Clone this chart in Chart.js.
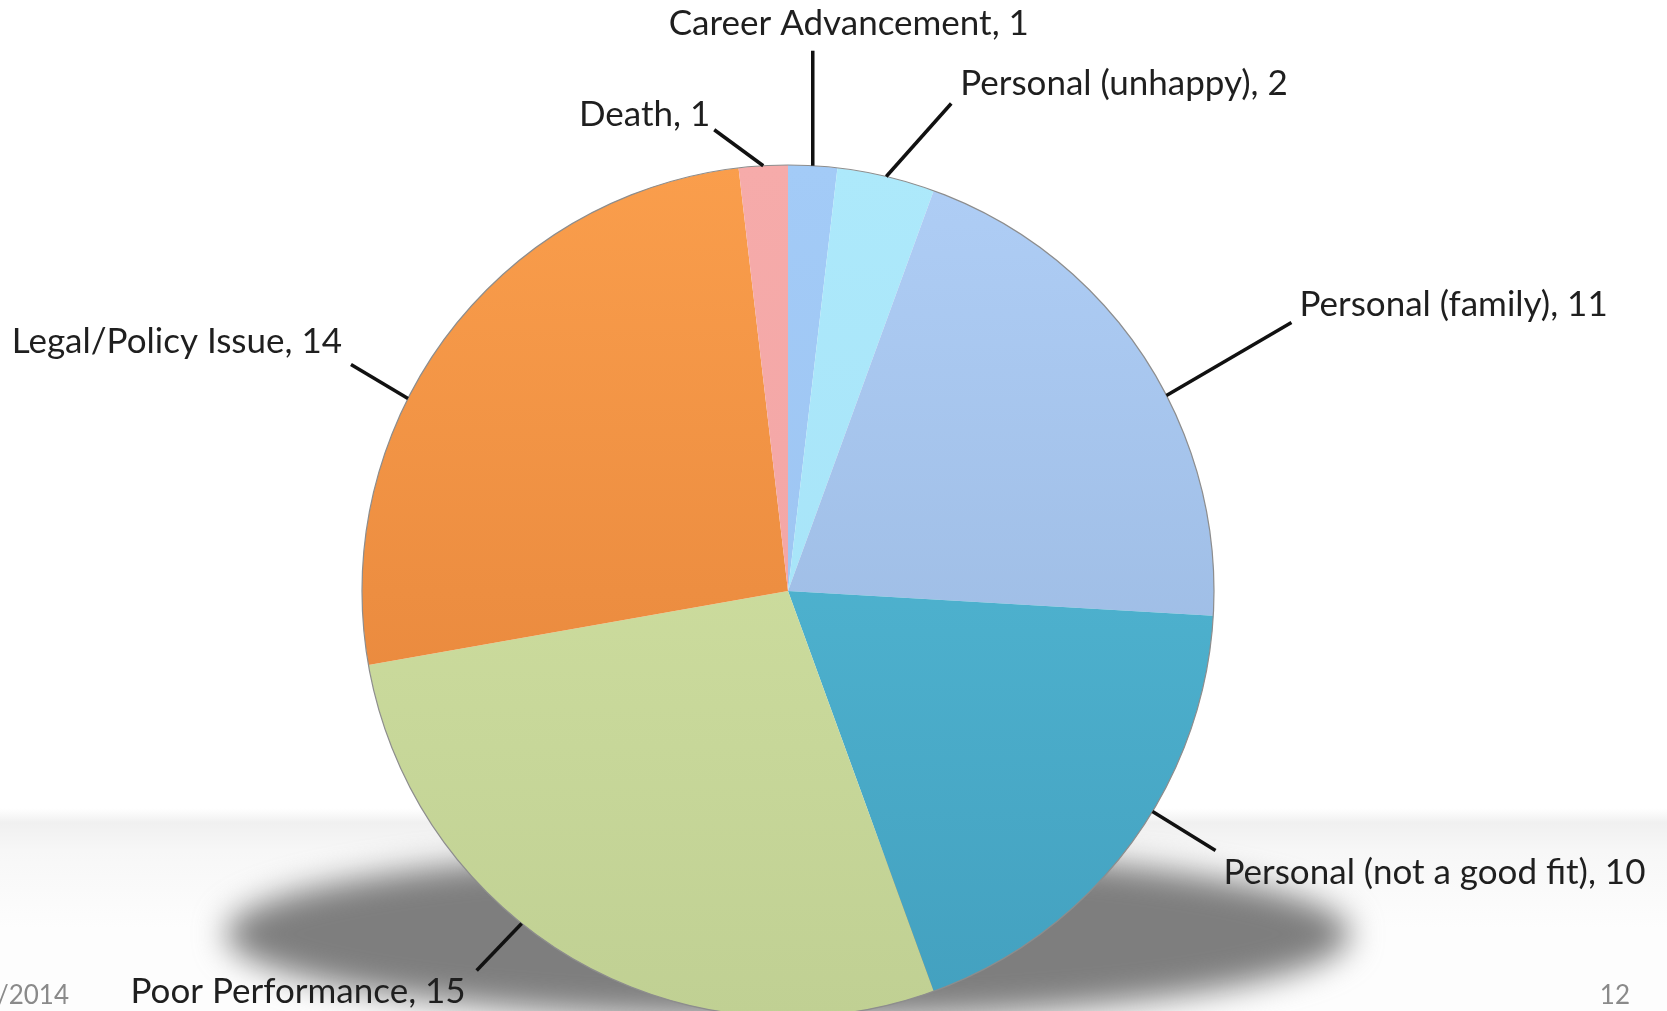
<!DOCTYPE html>
<html>
<head>
<meta charset="utf-8">
<title>Reasons for leaving</title>
<script src="https://cdn.jsdelivr.net/npm/chart.js@4"></script>
<style>
  html, body { margin: 0; padding: 0; background: #fff; overflow: hidden; }
  #wrap { position: relative; width: 1667px; height: 1011px; overflow: hidden; }
  canvas { display: block; }
</style>
</head>
<body>
<div id="wrap"><canvas id="pieChart" width="1667" height="1040"></canvas></div>
<script>
"use strict";

// ~ Data
const categories = [
  "Career Advancement",
  "Personal (unhappy)",
  "Personal (family)",
  "Personal (not a good fit)",
  "Poor Performance",
  "Legal/Policy Issue",
  "Death"
];
const counts = [1, 2, 11, 10, 15, 14, 1];

// slice colours (top / bottom of a soft vertical gradient)
const topColors = ["#a3cbf7", "#ade9fb", "#afcef6", "#57c1dc", "#d6e6a6", "#fa9e4c", "#f6abaa"];
const bottomColors = ["#99c0ee", "#a3e0f6", "#93b1d9", "#43a0bf", "#c0d093", "#e07e36", "#f0a2a2"];

// label layout: shift of leader start along the rim (deg), line end offset, text offset
const labelLayout = [
  { shift: 0, dx: 0, dy: -115, tx: 36, ty: -27, align: "center" },
  { shift: 0, dx: 65, dy: -73, tx: 9, ty: -20, align: "left" },
  { shift: 6, dx: 125, dy: -73, tx: 8, ty: -18, align: "left" },
  { shift: -5.5, dx: 63, dy: 39, tx: 8, ty: 22, align: "left" },
  { shift: 8.7, dx: -45, dy: 47, tx: -11, ty: 21, align: "right" },
  { shift: -9.8, dx: -57, dy: -34, tx: -9, ty: -23, align: "right" },
  { shift: 0, dx: -49, dy: -36, tx: -4, ty: -15, align: "right" }
];

const labelFont = "35px Lato";
const footerFont = "26px Lato";

// * gradient fill for each slice, spanning the pie's height
function sliceFill(context) {
  const i = context.dataIndex;
  const chart = context.chart;
  const area = chart.chartArea;
  if (!area) return topColors[i];
  const g = chart.ctx.createLinearGradient(0, area.top, 0, area.bottom);
  g.addColorStop(0, topColors[i]);
  g.addColorStop(1, bottomColors[i]);
  return g;
}

// ! floor band and the soft shadow under the pie
const backdrop = {
  id: "backdrop",
  beforeDatasetsDraw(chart) {
    const ctx = chart.ctx;
    const arc = chart.getDatasetMeta(0).data[0];
    if (!arc) return;
    const cx = arc.x, cy = arc.y, r = arc.outerRadius;
    ctx.save();
    const floorTop = cy + r * 0.51;
    const band = ctx.createLinearGradient(0, floorTop, 0, floorTop + 120);
    band.addColorStop(0, "#ffffff");
    band.addColorStop(0.12, "#f0f0f0");
    band.addColorStop(0.35, "#f7f7f7");
    band.addColorStop(1, "#fdfdfd");
    ctx.fillStyle = band;
    ctx.fillRect(0, floorTop, chart.width, chart.height - floorTop);

    ctx.filter = "blur(16px)";
    ctx.fillStyle = "#7e7e7e";
    ctx.beginPath();
    ctx.ellipse(cx, cy + r * 0.805, r * 1.32, r * 0.2, 0, 0, Math.PI * 2);
    ctx.fill();
    ctx.restore();
  }
};

// & outline, leader lines and labels
const pieLabels = {
  id: "pieLabels",
  afterDatasetsDraw(chart) {
    const ctx = chart.ctx;
    const meta = chart.getDatasetMeta(0);
    const first = meta.data[0];
    ctx.save();
    ctx.strokeStyle = "#8d8d8d";
    ctx.lineWidth = 1.2;
    ctx.beginPath();
    ctx.arc(first.x, first.y, first.outerRadius, 0, Math.PI * 2);
    ctx.stroke();

    meta.data.forEach((arc, i) => {
      const lay = labelLayout[i];
      const mid = (arc.startAngle + arc.endAngle) / 2 + lay.shift * Math.PI / 180;
      const x0 = arc.x + Math.cos(mid) * arc.outerRadius;
      const y0 = arc.y + Math.sin(mid) * arc.outerRadius;
      const x1 = x0 + lay.dx;
      const y1 = y0 + lay.dy;
      ctx.strokeStyle = "#111111";
      ctx.lineWidth = 3.5;
      ctx.beginPath();
      ctx.moveTo(x0, y0);
      ctx.lineTo(x1, y1);
      ctx.stroke();

      ctx.fillStyle = "#1f1f1f";
      ctx.font = labelFont;
      ctx.textAlign = lay.align;
      ctx.textBaseline = "middle";
      ctx.fillText(categories[i] + ", " + counts[i], x1 + lay.tx, y1 + lay.ty);
    });

    // slide footer
    ctx.fillStyle = "#8a8a8a";
    ctx.font = footerFont;
    ctx.textBaseline = "middle";
    ctx.textAlign = "right";
    ctx.fillText("/2014", 69, 996);
    ctx.fillText("12", 1630, 996);
    ctx.restore();
  }
};

const ctx = document.getElementById("pieChart").getContext("2d");
new Chart(ctx, {
  type: "pie",
  data: {
    labels: categories,
    datasets: [
      {
        data: counts,
        backgroundColor: sliceFill,
        borderWidth: 0
      }
    ]
  },
  options: {
    responsive: false,
    animation: false,
    layout: {
      padding: { left: 362, right: 453, top: 165, bottom: 23 }
    },
    plugins: {
      legend: { display: false },
      tooltip: { enabled: false }
    }
  },
  plugins: [backdrop, pieLabels]
});
</script>
</body>
</html>
